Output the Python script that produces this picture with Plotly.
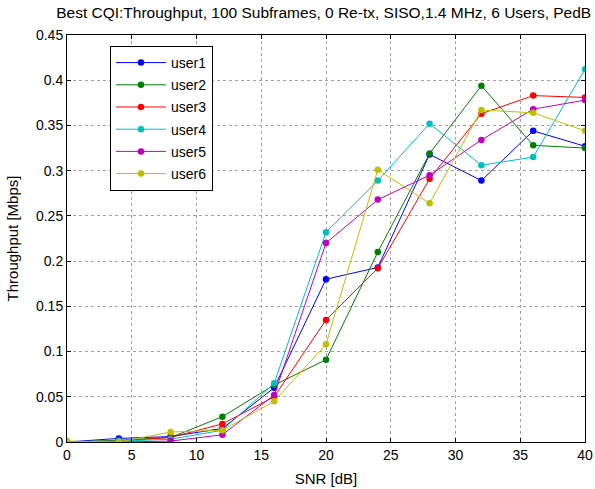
import plotly.graph_objects as go

snr = [0, 4, 8, 12, 16, 20, 24, 28, 32, 36, 40]
user1 = [0.0, 0.004, 0.006, 0.015, 0.060, 0.180, 0.193, 0.318, 0.289, 0.344, 0.327]
user2 = [0.0, 0.002, 0.005, 0.028, 0.063, 0.091, 0.210, 0.319, 0.394, 0.328, 0.325]
user3 = [0.0, 0.001, 0.005, 0.020, 0.050, 0.135, 0.192, 0.291, 0.363, 0.383, 0.381]
user4 = [0.0, 0.001, 0.003, 0.013, 0.065, 0.232, 0.289, 0.352, 0.306, 0.315, 0.412]
user5 = [0.0, 0.0, 0.001, 0.008, 0.052, 0.220, 0.268, 0.295, 0.334, 0.368, 0.378]
user6 = [0.001, 0.0, 0.011, 0.013, 0.045, 0.108, 0.301, 0.264, 0.367, 0.364, 0.344]

names = ["user1", "user2", "user3", "user4", "user5", "user6"]
series = [user1, user2, user3, user4, user5, user6]
colors = ["#0000ff", "#008000", "#ff0000", "#00bfbf", "#bf00bf", "#bfbf00"]

fig = go.Figure()
for n, s, c in zip(names, series, colors):
    fig.add_trace(go.Scatter(x=snr, y=s, name=n, mode="lines+markers",
                             legendgroup=n,
                             line=dict(color=c, width=1),
                             marker=dict(color=c, size=6.5)))

axis_common = dict(showline=True, linecolor="black", linewidth=1, mirror="ticks",
                   ticks="inside", ticklen=4, tickcolor="black", automargin=False,
                   showgrid=True, gridcolor="#a0a0a0", griddash="dot", gridwidth=1,
                   zeroline=False, tickfont=dict(size=14, color="black"))

fig.update_layout(
    width=595, height=489, autosize=False,
    paper_bgcolor="white", plot_bgcolor="white",
    font=dict(family="Liberation Sans, Arial, sans-serif", size=14, color="black"),
    margin=dict(l=67, r=10, t=35, b=47, autoexpand=False),
    title=dict(text="Best CQI:Throughput, 100 Subframes, 0 Re-tx, SISO,1.4 MHz, 6 Users, PedB",
               x=0.544, xanchor="center", y=0.986, yanchor="top",
               font=dict(size=15.5, color="black")),
    xaxis=dict(range=[0, 40], dtick=5, title=dict(text="SNR [dB]", standoff=11, font=dict(size=15)), **axis_common),
    yaxis=dict(range=[0, 0.45], dtick=0.05, tickformat="~g",
               title=dict(text="Throughput [Mbps]", standoff=13, font=dict(size=15)), **axis_common),
    legend=dict(x=0.083, y=0.973, xanchor="left", yanchor="top",
                bgcolor="white", bordercolor="black", borderwidth=1,
                font=dict(size=14), traceorder="grouped", tracegroupgap=1,
                itemwidth=50),
    showlegend=True,
)

fig.write_html("out.html", config={"displayModeBar": False},
               post_script="document.body.style.margin='0';document.body.style.overflow='hidden';")
